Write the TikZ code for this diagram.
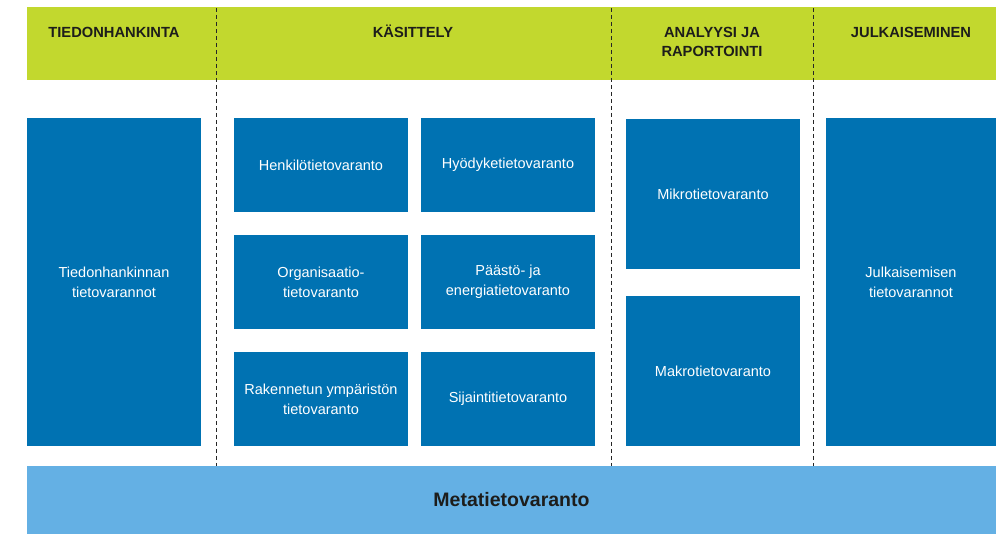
\documentclass[tikz,border=0pt]{standalone}
\usepackage{fontspec}
\setmainfont{Liberation Sans}
\usepackage{tikz}
\definecolor{phasegreen}{HTML}{C2D82E}
\definecolor{varblue}{HTML}{0072B2}
\definecolor{metablue}{HTML}{64B0E4}
\definecolor{headtext}{HTML}{1D1D1B}

\begin{document}
\begin{tikzpicture}[x=1pt,y=-1pt]
      \tikzstyle{varanto}=[rectangle,fill=varblue,text=white,inner sep=0pt,minimum width=174pt,minimum height=94pt,align=center,font=\fontsize{14.5}{20}\selectfont]
      \tikzstyle{phase}=[anchor=base,inner sep=0pt,align=center,text=headtext,font=\fontsize{14.7}{19}\selectfont\bfseries]
      \tikzstyle{divider}=[draw=black!85,line width=1pt,dash pattern=on 4pt off 3pt]
      \useasboundingbox (0,0) rectangle (996,534);
      \fill[phasegreen] (27,7) rectangle (996,80);
      % vaiheet
      \node[phase] (hankinta) at (114,37.5) {TIEDONHANKINTA};
      \node[phase] (kasittely) at (413,37.5) {KÄSITTELY};
      \node[phase] (analyysi) at (712,56.5) {ANALYYSI JA\\RAPORTOINTI};
      \node[phase] (julkaisu) at (911,37.5) {JULKAISEMINEN};
      % jakoviivat
      \coordinate (d1a) at (216,8);
      \coordinate (d1b) at (216,466);
      \coordinate (d2a) at (611,8);
      \coordinate (d2b) at (611,466);
      \coordinate (d3a) at (813,8);
      \coordinate (d3b) at (813,466);
      \draw[divider] (d1a) -- (d1b);
      \draw[divider] (d2a) -- (d2b);
      \draw[divider] (d3a) -- (d3b);
      % tietovarannot
      \node[varanto,minimum height=328pt] (hankvar) at (114,282) {Tiedonhankinnan\\tietovarannot};
      \node[varanto] (henkilo) at (321,165) {Henkilötietovaranto};
      \node[varanto] (hyodyke) at (508,165) {Hyödyketietovaranto};
      \node[varanto] (organisaatio) at (321,282) {Organisaatio-\\tietovaranto};
      \node[varanto] (paasto) at (508,282) {Päästö- ja\\energiatietovaranto};
      \node[varanto] (rakennettu) at (321,399) {Rakennetun ympäristön\\tietovaranto};
      \node[varanto] (sijainti) at (508,399) {Sijaintitietovaranto};
      \node[varanto,minimum height=150pt] (mikro) at (713,194) {Mikrotietovaranto};
      \node[varanto,minimum height=150pt] (makro) at (713,371) {Makrotietovaranto};
      \node[varanto,minimum width=170pt,minimum height=328pt] (julkvar) at (911,282) {Julkaisemisen\\tietovarannot};
      \tikzstyle{meta}=[rectangle,fill=metablue,text=headtext,inner sep=0pt,minimum width=969pt,minimum height=68pt,font=\fontsize{19.5}{23}\selectfont\bfseries]
      \node[meta] (metavar) at (511.5,500) {Metatietovaranto};
\end{tikzpicture}
\end{document}
